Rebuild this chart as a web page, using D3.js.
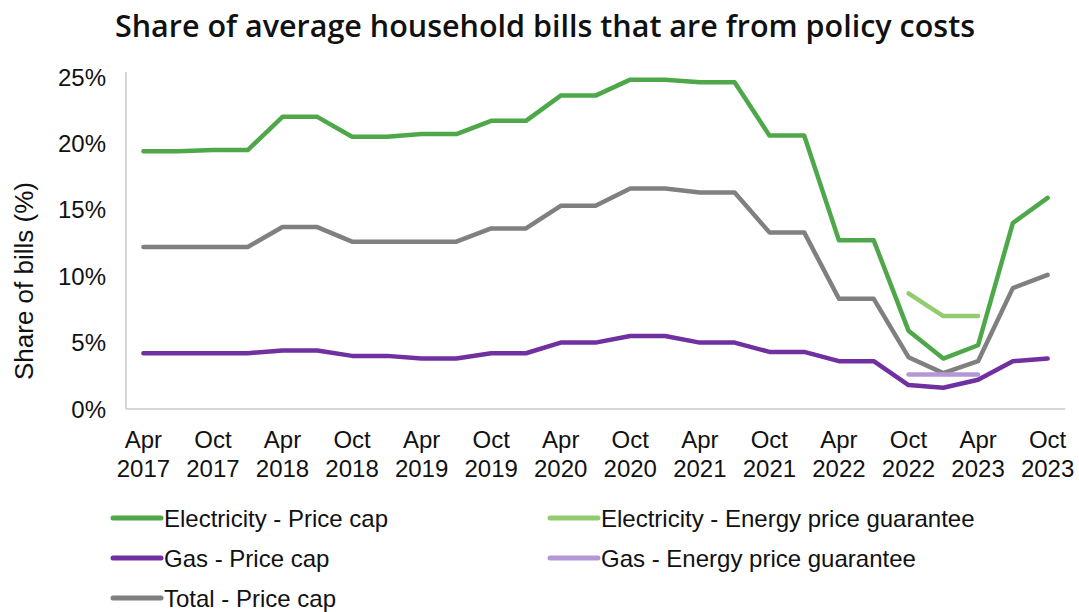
<!DOCTYPE html>
<html>
<head>
<meta charset="utf-8">
<script src="https://cdn.jsdelivr.net/npm/d3@7"></script>
<style>
    body { margin: 0; background: #fff; }
    svg { display: block; }
</style>
</head>
<body>
<svg id="chart" width="1079" height="612"></svg>
<script>
// quarterly points, Apr 2017 .. Oct 2023
const quarters = [
    "Apr 2017", "Jul 2017", "Oct 2017", "Jan 2018",
    "Apr 2018", "Jul 2018", "Oct 2018", "Jan 2019",
    "Apr 2019", "Jul 2019", "Oct 2019", "Jan 2020",
    "Apr 2020", "Jul 2020", "Oct 2020", "Jan 2021",
    "Apr 2021", "Jul 2021", "Oct 2021", "Jan 2022",
    "Apr 2022", "Jul 2022", "Oct 2022", "Jan 2023",
    "Apr 2023", "Jul 2023", "Oct 2023"
];
const elecCap = [19.4, 19.4, 19.5, 19.5, 22.0, 22.0, 20.5, 20.5, 20.7, 20.7, 21.7, 21.7,
    23.6, 23.6, 24.8, 24.8, 24.6, 24.6, 20.6, 20.6, 12.7, 12.7, 5.9, 3.8, 4.8, 14.0, 15.9];
const totalCap = [12.2, 12.2, 12.2, 12.2, 13.7, 13.7, 12.6, 12.6, 12.6, 12.6, 13.6, 13.6,
    15.3, 15.3, 16.6, 16.6, 16.3, 16.3, 13.3, 13.3, 8.3, 8.3, 3.9, 2.7, 3.6, 9.1, 10.1];
const gasCap = [4.2, 4.2, 4.2, 4.2, 4.4, 4.4, 4.0, 4.0, 3.8, 3.8, 4.2, 4.2,
    5.0, 5.0, 5.5, 5.5, 5.0, 5.0, 4.3, 4.3, 3.6, 3.6, 1.8, 1.6, 2.2, 3.6, 3.8];
// energy price guarantee: Oct 2022 .. Apr 2023
const epgQuarters = ["Oct 2022", "Jan 2023", "Apr 2023"];
const elecEpg = [8.7, 7.0, 7.0];
const gasEpg = [2.6, 2.6, 2.6];
const yTicks = [0, 5, 10, 15, 20, 25];

const series = [
    { name: "Electricity - Price cap", color: "#4ea84a", x: quarters, y: elecCap },
    { name: "Electricity - Energy price guarantee", color: "#93cc6f", x: epgQuarters, y: elecEpg },
    { name: "Gas - Price cap", color: "#7030a0", x: quarters, y: gasCap },
    { name: "Gas - Energy price guarantee", color: "#b497d6", x: epgQuarters, y: gasEpg },
    { name: "Total - Price cap", color: "#808080", x: quarters, y: totalCap }
];
// draw order (back to front)
const drawOrder = [4, 0, 2, 1, 3];

const svg = d3.select("#chart");
const plotLeft = 126, plotRight = 1065, plotTop = 77, plotBottom = 409;
const font = "'Liberation Sans', Arial, sans-serif";

const x = d3.scalePoint().domain(quarters).range([plotLeft, plotRight]).padding(0.5);
const y = d3.scaleLinear().domain([0, 25]).range([plotBottom, plotTop]);

// title
svg.append("text")
    .attr("x", 545)
    .attr("y", 37)
    .attr("text-anchor", "middle")
    .style("font-family", "'Open Sans', 'Noto Sans', sans-serif")
    .style("font-weight", 600)
    .style("font-size", "30.5px")
    .attr("fill", "#111")
    .text("Share of average household bills that are from policy costs");

// axes lines
svg.append("line")
    .attr("x1", plotLeft).attr("x2", plotLeft)
    .attr("y1", plotTop - 5).attr("y2", plotBottom)
    .attr("stroke", "#c8c8c8").attr("stroke-width", 1.5);
svg.append("line")
    .attr("x1", plotLeft).attr("x2", plotRight)
    .attr("y1", plotBottom).attr("y2", plotBottom)
    .attr("stroke", "#c8c8c8").attr("stroke-width", 1.5);

// y tick labels
svg.selectAll("text.ytick")
    .data(yTicks)
    .enter()
    .append("text")
    .attr("class", "ytick")
    .attr("x", 106)
    .attr("y", d => y(d))
    .attr("dy", "0.36em")
    .attr("text-anchor", "end")
    .style("font-family", font)
    .style("font-size", "24px")
    .attr("fill", "#111")
    .text(d => d + "%");

// y axis title
svg.append("text")
    .attr("transform", "translate(33, 281) rotate(-90)")
    .attr("text-anchor", "middle")
    .style("font-family", font)
    .style("font-size", "26px")
    .attr("fill", "#111")
    .text("Share of bills (%)");

// x tick labels: every second quarter
const xLabels = quarters.filter((d, i) => i % 2 === 0);
const xl = svg.selectAll("text.xtick")
    .data(xLabels)
    .enter()
    .append("text")
    .attr("class", "xtick")
    .attr("text-anchor", "middle")
    .style("font-family", font)
    .style("font-size", "24px")
    .attr("fill", "#111");
xl.append("tspan")
    .attr("x", d => x(d))
    .attr("y", 448)
    .text(d => d.split(" ")[0]);
xl.append("tspan")
    .attr("x", d => x(d))
    .attr("y", 477)
    .text(d => d.split(" ")[1]);

// lines
const line = d3.line()
    .x(d => x(d[0]))
    .y(d => y(d[1]));

drawOrder.forEach(i => {
    const s = series[i];
    svg.append("path")
        .datum(s.x.map((q, j) => [q, s.y[j]]))
        .attr("d", line)
        .attr("fill", "none")
        .attr("stroke", s.color)
        .attr("stroke-width", 4.5)
        .attr("stroke-linejoin", "round")
        .attr("stroke-linecap", "round");
});

// legend
const legendPos = [[113, 518], [550, 518], [113, 558], [550, 558], [113, 598]];
series.forEach((s, i) => {
    const [lx, ly] = legendPos[i];
    svg.append("line")
        .attr("x1", lx).attr("x2", lx + 48)
        .attr("y1", ly).attr("y2", ly)
        .attr("stroke", s.color)
        .attr("stroke-width", 5)
        .attr("stroke-linecap", "round");
    svg.append("text")
        .attr("x", lx + 51)
        .attr("y", ly)
        .attr("dy", "0.36em")
        .style("font-family", font)
        .style("font-size", "24px")
        .attr("fill", "#111")
        .text(s.name);
});
</script>
</body>
</html>
